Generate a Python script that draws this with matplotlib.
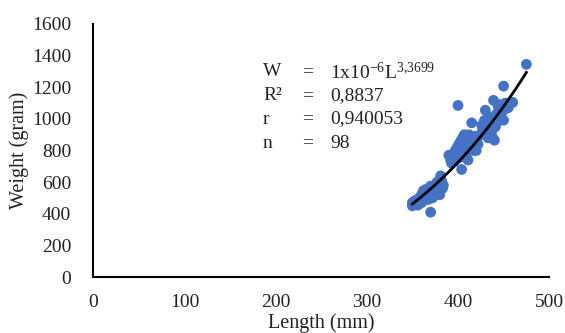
import matplotlib
matplotlib.use("Agg")
import matplotlib.pyplot as plt
import numpy as np

plt.rcParams['font.family'] = ['Liberation Serif', 'DejaVu Serif']
plt.rcParams['mathtext.fontset'] = 'custom'
plt.rcParams['mathtext.rm'] = 'Liberation Serif'
plt.rcParams['mathtext.it'] = 'Liberation Serif:italic'

length = [350, 350, 352, 355, 355, 358, 360, 360, 362, 363, 365, 365, 367, 368, 370, 370, 370,
          372, 373, 375, 375, 377, 378, 380, 380, 381, 382, 383, 384,
          390, 392, 393, 395, 397, 398, 399, 400, 400, 401, 402, 403, 404, 405, 405, 406, 407,
          408, 409, 410, 410, 411, 412, 413, 414, 415, 416, 417, 418, 419, 420, 421, 422,
          425, 427, 429, 430, 431, 432, 433, 435, 436, 437, 438, 439, 440, 440, 441, 442, 443,
          444, 445, 446, 447, 448, 450, 450, 450, 452, 455, 460, 475,
          356, 366, 374, 396, 409, 426, 434]
weight = [450, 470, 480, 465, 490, 500, 470, 520, 545, 500, 555, 530, 490, 560, 410, 540, 575,
          500, 565, 580, 545, 600, 560, 520, 590, 640, 610, 560, 580,
          770, 740, 720, 760, 800, 780, 820, 1085, 750, 840, 790, 860, 680, 880, 810, 760, 900,
          850, 780, 870, 820, 740, 900, 830, 880, 975, 860, 800, 850, 890, 800, 880, 840,
          900, 930, 990, 1055, 910, 950, 880, 1000, 960, 920, 880, 1117, 865, 1000, 950, 1030, 980,
          1080, 1050, 1090, 1020, 1060, 1207, 992, 1055, 1100, 1070, 1104, 1345,
          455, 510, 525, 730, 800, 960, 1010]

coef_a = 1.235e-6
coef_b = 3.3699
fit_range = [350, 475]

xticks = [0, 100, 200, 300, 400, 500]
yticks = [0, 200, 400, 600, 800, 1000, 1200, 1400, 1600]

fig = plt.figure(figsize=(5.65, 3.33), dpi=100)
ax = fig.add_axes([0.165, 0.168, 0.807, 0.76])

ax.scatter(length, weight, s=60, color='#4472C4', edgecolors='none', zorder=2)
xf = np.linspace(fit_range[0], fit_range[1], 200)
ax.plot(xf, coef_a * xf ** coef_b, color='black', lw=2, zorder=3)

ax.set_xlim(0, 500)
ax.set_ylim(0, 1600)
ax.set_xticks(xticks)
ax.set_yticks(yticks)
ax.tick_params(length=0, labelsize=14, colors='#222222')
ax.tick_params(axis='y', pad=16)
ax.tick_params(axis='x', pad=12)
for s in ['top', 'right']:
    ax.spines[s].set_visible(False)
for s in ['left', 'bottom']:
    ax.spines[s].set_linewidth(1.5)
    ax.spines[s].set_color('black')

ax.set_ylabel('Weight (gram)', fontsize=14.5, labelpad=2, color='#222222')
ax.set_xlabel('Length (mm)', fontsize=14.5, labelpad=2, color='#222222')

rows = [('W', r'1x10$^{-6}$L$^{3{,}3699}$'), ('R²', '0,8837'), ('r', '0,940053'), ('n', '98')]
ys = [72, 96, 119, 143]
for (lab, val), yp in zip(rows, ys):
    fy = 1 - yp / 333
    fig.text(263 / 565, fy, lab, fontsize=14, va='center', ha='left', color='#222222')
    fig.text(302 / 565, fy, '=', fontsize=14, va='center', ha='left', color='#222222')
    fig.text(330 / 565, fy, val, fontsize=14, va='center', ha='left', color='#222222')

fig.savefig('out.png', dpi=100)
